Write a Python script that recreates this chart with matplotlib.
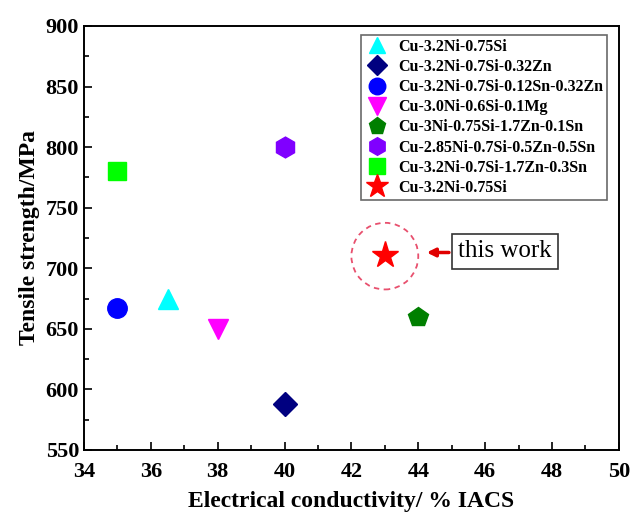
import matplotlib
matplotlib.use("Agg")
import matplotlib.pyplot as plt
from matplotlib.patches import Ellipse

plt.rcParams['font.family'] = ['Liberation Serif', 'DejaVu Serif']
plt.rcParams['font.weight'] = 'bold'

# alloy data: conductivity (%IACS), tensile strength (MPa)
labels = ['Cu-3.2Ni-0.75Si', 'Cu-3.2Ni-0.7Si-0.32Zn', 'Cu-3.2Ni-0.7Si-0.12Sn-0.32Zn',
          'Cu-3.0Ni-0.6Si-0.1Mg', 'Cu-3Ni-0.75Si-1.7Zn-0.1Sn', 'Cu-2.85Ni-0.7Si-0.5Zn-0.5Sn',
          'Cu-3.2Ni-0.7Si-1.7Zn-0.3Sn', 'Cu-3.2Ni-0.75Si']
conductivity = [36.5, 40.0, 35.0, 38.0, 44.0, 40.0, 35.0, 43.0]
strength = [675, 588, 667, 650, 660, 800, 780, 711]
markers = ['^', 'D', 'o', 'v', 'p', 'h', 's', '*']
colors = ['#00ffff', '#000080', '#0000ff', '#ff00ff', '#007f00', '#8000ff', '#00ff00', '#ff0000']
sizes = [14, 12, 14, 15, 15, 15, 13, 20]

fig = plt.figure(figsize=(6.3, 5.19), dpi=100)
ax = fig.add_axes([0.1333, 0.133, 0.849, 0.817])

for x, y, m, c, s, lab in zip(conductivity, strength, markers, colors, sizes, labels):
    ax.plot(x, y, linestyle='none', marker=m, color=c, markersize=s, label=lab)

ax.set_xlim(34, 50)
ax.set_ylim(550, 900)
ax.set_xticks(range(34, 51, 2))
ax.set_yticks(range(550, 901, 50))
ax.set_xticks(range(35, 50, 2), minor=True)
ax.set_yticks(range(575, 900, 50), minor=True)
ax.tick_params(which='both', direction='in', width=1.2)
ax.tick_params(which='major', length=6, labelsize=16)
ax.tick_params(axis='x', which='major', pad=9)
ax.tick_params(which='minor', length=3.5)
for sp in ax.spines.values():
    sp.set_linewidth(1.4)

ax.set_xlabel('Electrical conductivity/ % IACS', fontsize=17, fontweight='bold', labelpad=6)
ax.set_ylabel('Tensile strength/MPa', fontsize=17, fontweight='bold', labelpad=4)

leg = ax.legend(loc='upper right', bbox_to_anchor=(0.978, 0.979), borderaxespad=0,
                prop={'weight': 'bold', 'size': 11.5}, frameon=True, fancybox=False,
                edgecolor='#444444', handletextpad=0.5, borderpad=0.25, labelspacing=0.26,
                handlelength=1.6, markerscale=0.85)
leg.get_frame().set_linewidth(1.2)

# highlight "this work"
ax.add_patch(Ellipse((43.0, 710), 2.0, 55, fill=False, edgecolor='#e8506e',
                     linestyle=(0, (3, 2.5)), linewidth=1.3))
ax.annotate('', xy=(44.17, 713), xytext=(45.0, 713),
            arrowprops=dict(arrowstyle='-|>', color='#e00000', lw=2.5, mutation_scale=12))
ax.text(45.2, 714, 'this work', fontsize=18, fontweight='normal', va='center', ha='left',
        bbox=dict(boxstyle='square,pad=0.25', facecolor='white', edgecolor='#333333', linewidth=1.2))

fig.savefig('out.png', dpi=100)
